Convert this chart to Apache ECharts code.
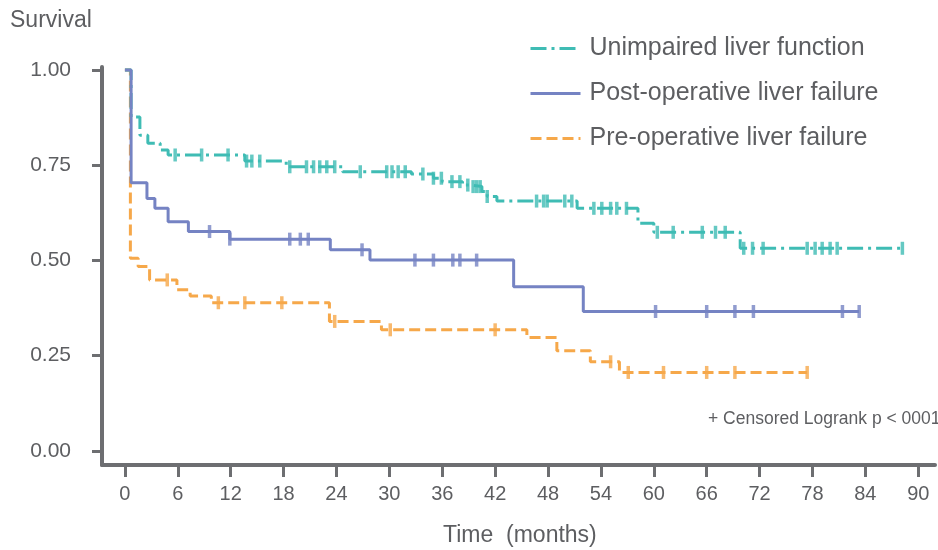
<!DOCTYPE html>
<html><head><meta charset="utf-8">
<script src="https://cdn.jsdelivr.net/npm/echarts@6/dist/echarts.min.js"></script>
<style>html,body{margin:0;padding:0;background:#fff}#c{width:938px;height:550px}</style>
</head><body><div id="c"></div>
<script>
// ---- data ----
const xTickValues = [0, 6, 12, 18, 24, 30, 36, 42, 48, 54, 60, 66, 72, 78, 84, 90];
const yTickValues = [0, 0.25, 0.5, 0.75, 1];
const seriesNames = ['Unimpaired liver function', 'Post-operative liver failure', 'Pre-operative liver failure'];

// Unimpaired liver function (step times, survival after step)
const unimpairedTime = [0, 0.7, 1.7, 2.6, 4.0, 4.9, 13.6, 18.3, 24.7, 32.5, 35.0, 36.0, 38.3, 39.2, 40.5, 41.1, 42.2, 51.3, 58.2, 60.0, 69.8, 88.3];
const unimpairedSurv = [1.0, 0.877, 0.829, 0.808, 0.790, 0.777, 0.761, 0.746, 0.733, 0.727, 0.716, 0.707, 0.698, 0.694, 0.681, 0.668, 0.656, 0.637, 0.598, 0.574, 0.532, 0.532];
const unimpairedCensor = [5.7, 8.7, 11.7, 13.8, 14.4, 15.3, 18.7, 20.6, 21.4, 22.1, 22.9, 23.8, 26.7, 29.7, 30.3, 31.0, 31.8, 33.8, 35.0, 35.9, 37.1, 38.0, 38.9, 39.5, 39.9, 40.3, 41.1, 46.7, 47.5, 47.9, 49.9, 50.7, 53.2, 54.1, 55.1, 55.8, 56.9, 60.4, 62.2, 65.5, 67.0, 68.1, 70.2, 71.2, 72.4, 77.4, 78.3, 79.1, 80.0, 80.8, 88.2];

// Post-operative liver failure
const postopTime = [0, 0.7, 2.5, 3.4, 4.9, 7.2, 11.9, 23.3, 27.8, 44.1, 52.0, 83.3];
const postopSurv = [1.0, 0.704, 0.663, 0.637, 0.602, 0.576, 0.556, 0.528, 0.501, 0.431, 0.366, 0.366];
const postopCensor = [9.6, 11.9, 18.7, 19.9, 20.8, 26.9, 32.9, 35.0, 37.2, 38.0, 39.9, 60.2, 66.0, 69.2, 71.3, 81.4, 83.3];

// Pre-operative liver failure
const preopTime = [0, 0.62, 1.5, 2.8, 5.9, 7.4, 9.8, 23.2, 29.1, 45.6, 49.0, 52.8, 56.1, 77.4];
const preopSurv = [1.0, 0.506, 0.484, 0.449, 0.423, 0.407, 0.389, 0.340, 0.318, 0.298, 0.263, 0.234, 0.206, 0.206];
const preopCensor = [4.8, 10.6, 13.6, 17.8, 23.8, 30.1, 42.0, 55.1, 57.1, 61.1, 66.0, 69.2, 77.4];

const colors = ['#3fbcb4', '#7583c3', '#f6a84a'];
const gray = '#6d6e71';
const textGray = '#5d5e61';
const font = 'Liberation Sans, Arial, sans-serif';

function pairs(t, s) { return t.map((v, i) => [v, s[i]]); }
function survAt(t, s, x) { let v = s[0]; for (let i = 0; i < t.length; i++) { if (t[i] <= x) v = s[i]; } return v; }
function censorPts(t, s, c) { return c.map(x => [x, survAt(t, s, x)]); }

const groups = [
  [unimpairedTime, unimpairedSurv, unimpairedCensor, [16, 5, 3, 5]],
  [postopTime, postopSurv, postopCensor, 'solid'],
  [preopTime, preopSurv, preopCensor, [11, 5]]
];
const zOrder = [3, 4, 2];
const series = [];
groups.forEach((g, i) => {
  series.push({
    name: seriesNames[i], type: 'line', step: 'end', symbol: 'none', z: zOrder[i],
    data: pairs(g[0], g[1]),
    lineStyle: { color: colors[i], width: 3, type: g[3] },
    itemStyle: { color: colors[i] },
    animation: false
  });
});
groups.forEach((g, i) => {
  series.push({
    name: seriesNames[i] + ' censored', type: 'scatter', symbol: 'rect', symbolSize: [3.5, 13], z: zOrder[i],
    data: censorPts(g[0], g[1], g[2]),
    itemStyle: { color: colors[i] },
    animation: false
  });
});

const chart = echarts.init(document.getElementById('c'));
chart.setOption({
  animation: false,
  backgroundColor: '#fff',
  textStyle: { fontFamily: font },
  grid: { left: 102, right: 3, top: 67, bottom: 85, containLabel: false },
  xAxis: {
    type: 'value', min: -2.6, max: 91.9,
    axisLine: { show: true, onZero: false, lineStyle: { color: gray, width: 4 } },
    axisTick: { show: true, length: 12, lineStyle: { color: gray, width: 3 }, customValues: xTickValues },
    axisLabel: { color: textGray, fontSize: 20, margin: 19, customValues: xTickValues, formatter: v => String(v) },
    splitLine: { show: false }
  },
  yAxis: {
    type: 'value', min: -0.037, max: 1.008,
    axisLine: { show: true, onZero: false, lineStyle: { color: gray, width: 4 } },
    axisTick: { show: true, length: 10, lineStyle: { color: gray, width: 3 }, customValues: yTickValues },
    axisLabel: { color: textGray, fontSize: 21, margin: 31, customValues: yTickValues, formatter: v => v.toFixed(2) },
    splitLine: { show: false }
  },
  legend: {
    data: seriesNames, orient: 'vertical', left: 524, top: 31,
    itemWidth: 50, itemHeight: 14, itemGap: 20,
    itemStyle: { opacity: 0 },
    lineStyle: { width: 3 },
    textStyle: { color: textGray, fontSize: 25, lineHeight: 24, padding: [0, 0, 0, 4] }
  },
  graphic: [
    { type: 'text', left: 10, top: 9, style: { text: 'Survival', fill: textGray, font: '23px ' + font } },
    { type: 'text', left: 443, top: 524, style: { text: 'Time  (months)', fill: textGray, font: '23px ' + font } },
    { type: 'text', left: 708, top: 410, style: { text: '+ Censored Logrank p < 0001', fill: textGray, font: '17.5px ' + font } }
  ],
  series: series
});
</script>
</body></html>
